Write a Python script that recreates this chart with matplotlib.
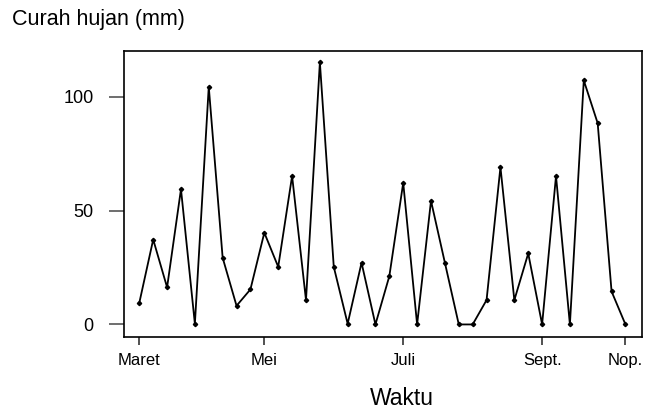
import matplotlib
matplotlib.use("Agg")
import matplotlib.pyplot as plt

plt.rcParams['font.family'] = ['Liberation Sans', 'DejaVu Sans']

# weekly rainfall readings, March to November
curah_hujan = [9.5, 37.3, 16.3, 59.4, 0.3, 104.4, 29.3, 8.2, 15.4, 40.3,
               25.3, 65.2, 10.7, 115.1, 25.3, 0.3, 27.1, 0, 21.2, 62.2,
               0, 54.3, 27.1, 0, 0, 10.7, 69.1, 10.7, 31.2, 0,
               65.2, 0, 107.2, 88.4, 14.5, 0]
minggu = list(range(len(curah_hujan)))

bulan_pos = [0, 9, 19, 29, 35]
bulan_label = ['Maret', 'Mei', 'Juli', 'Sept.', 'Nop.']
y_ticks = [0, 50, 100]

fig = plt.figure(figsize=(6.46, 4.13), dpi=100)
ax = fig.add_axes([0.192, 0.183, 0.802, 0.694])

ax.plot(minggu, curah_hujan, color='black', linewidth=1.3,
        marker='D', markersize=2.2)

ax.set_xlim(-1.1, 36.2)
ax.set_ylim(-5.7, 120.2)

ax.set_xticks(bulan_pos)
ax.set_xticklabels(bulan_label, fontsize=12)
ax.set_yticks(y_ticks)
ax.set_yticklabels([str(v) for v in y_ticks], fontsize=13)

ax.tick_params(axis='x', length=6, width=1.2, color='#333333', pad=5,
               direction='out')
ax.tick_params(axis='y', length=11, width=1.2, color='#555555', pad=11)
for s in ax.spines.values():
    s.set_linewidth(1.2)

fig.text(0.018, 0.952, 'Curah hujan (mm)', fontsize=15.5, va='center', ha='left')
fig.text(0.622, 0.036, 'Waktu', fontsize=16.5, va='center', ha='center')

fig.savefig('out.png', dpi=100)
